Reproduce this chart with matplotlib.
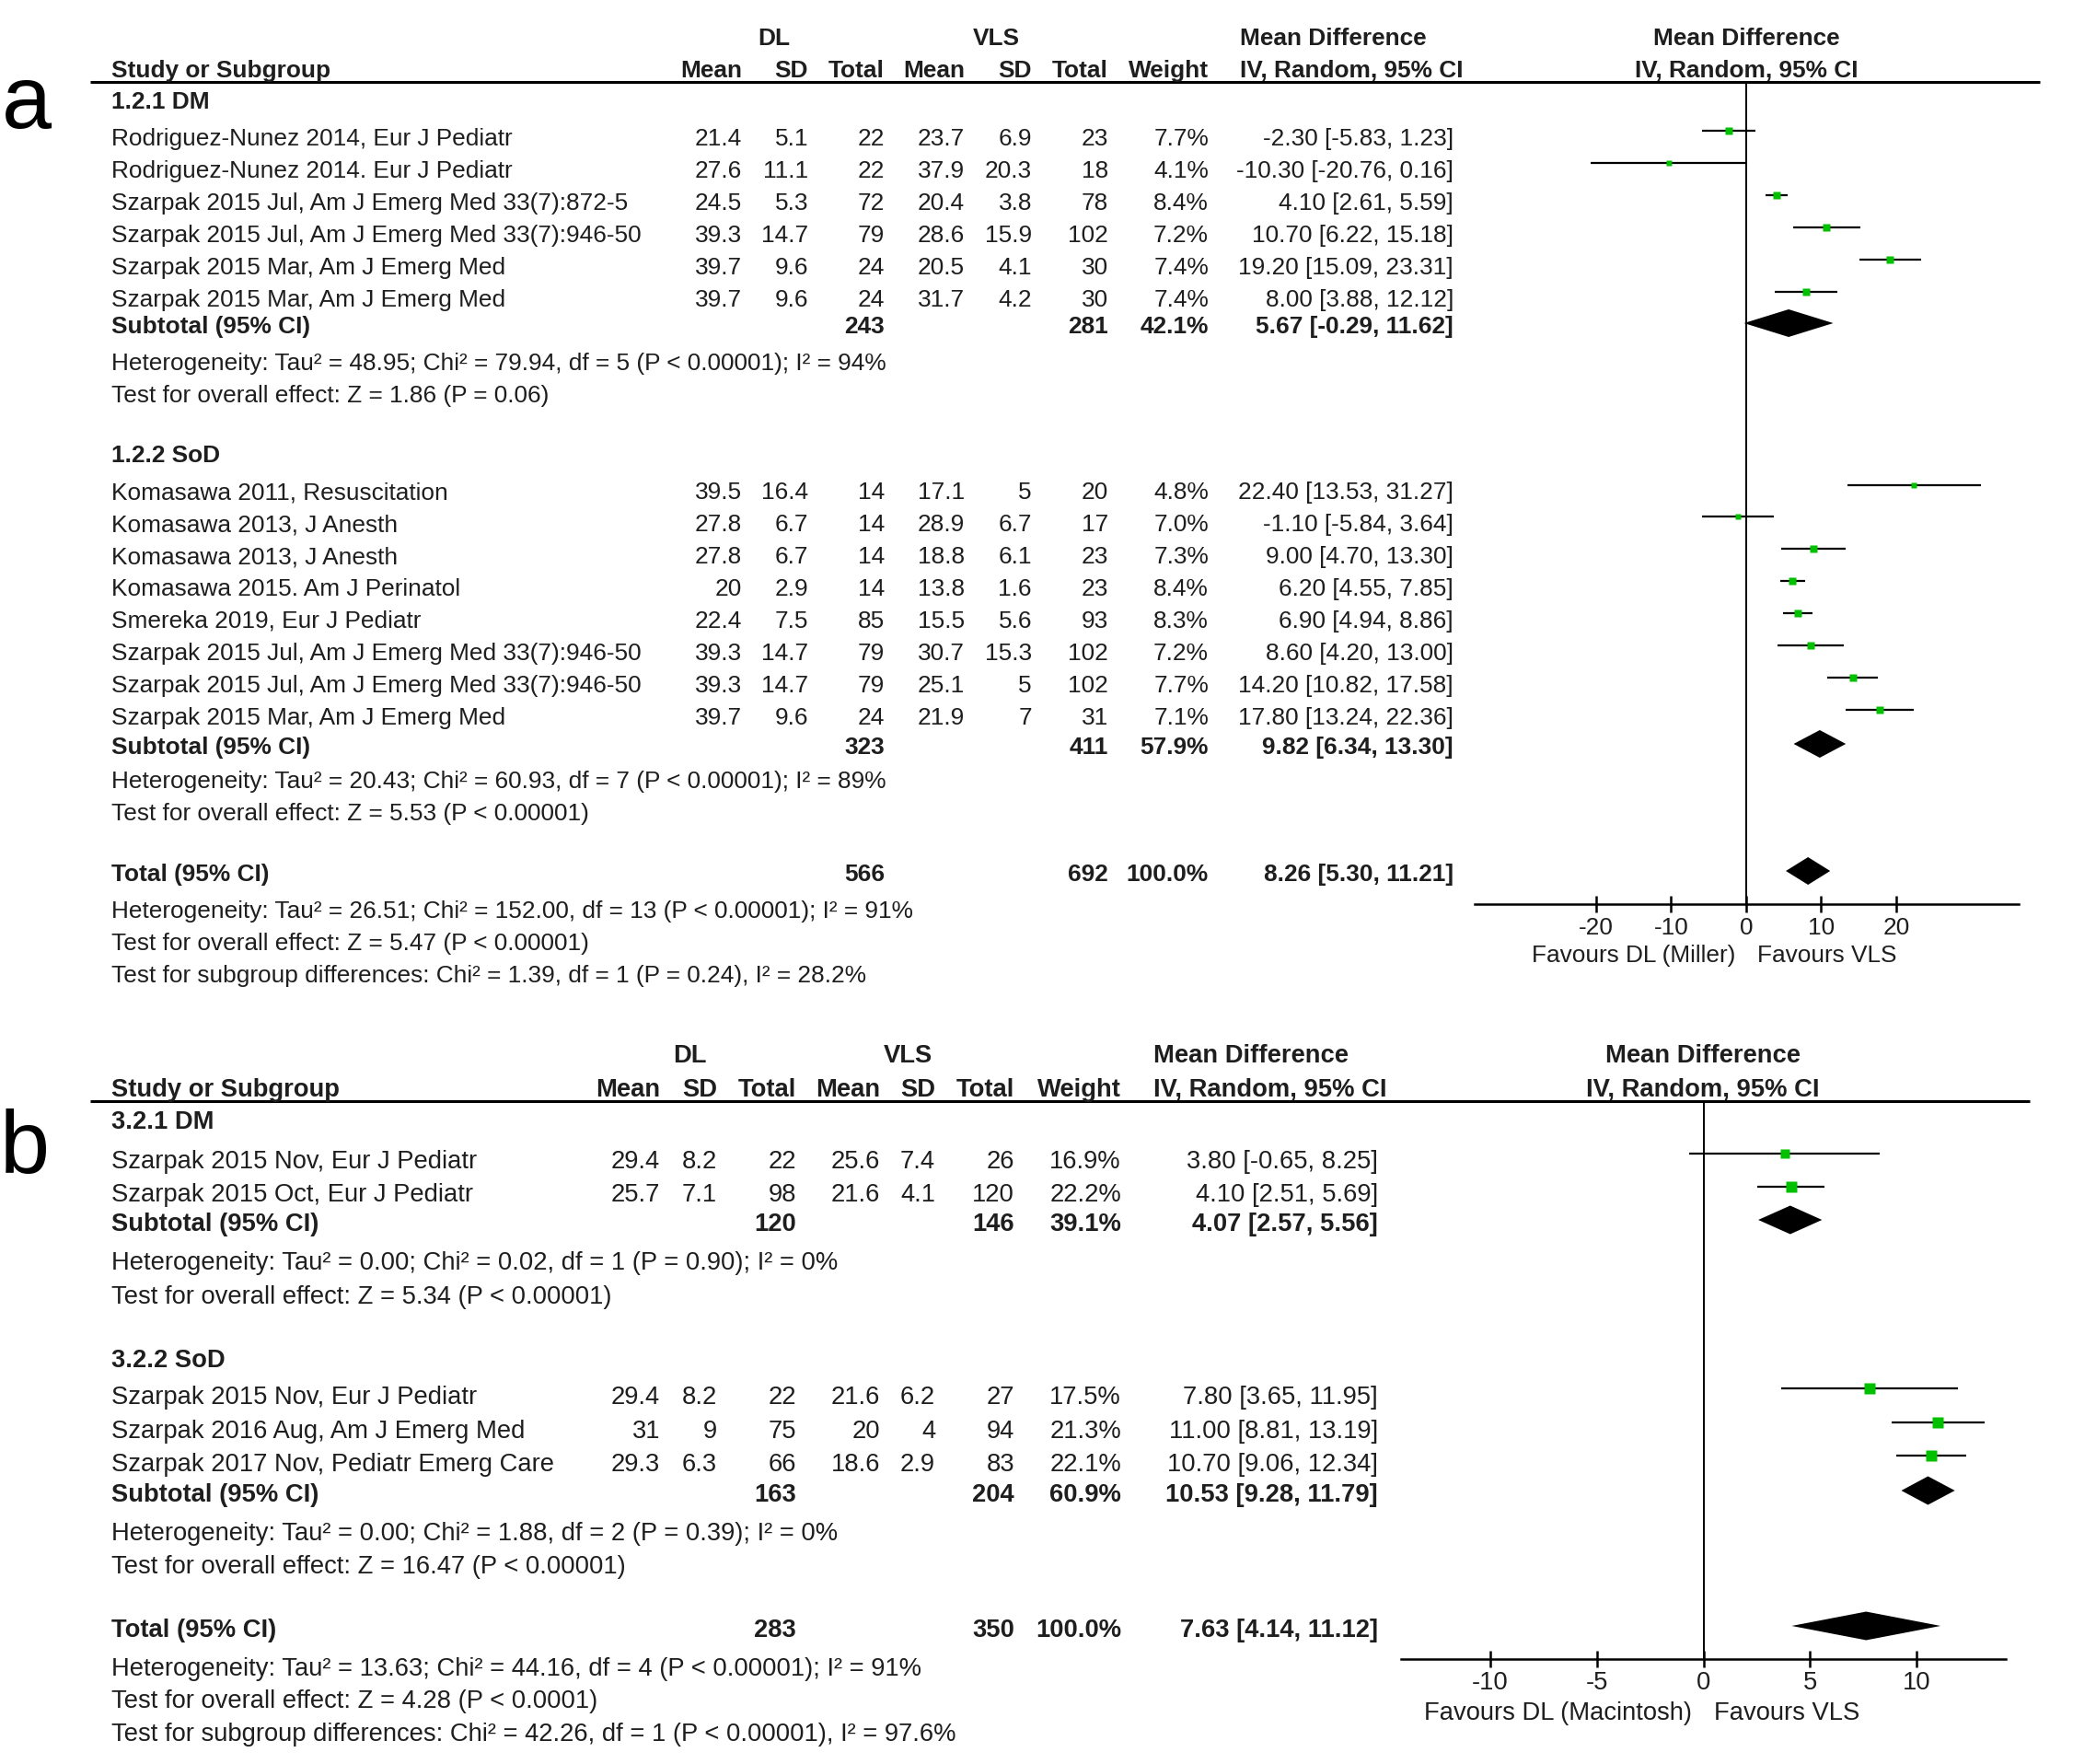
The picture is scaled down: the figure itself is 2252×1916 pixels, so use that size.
import matplotlib
matplotlib.use('Agg')
import matplotlib.pyplot as plt
from matplotlib.patches import Polygon

plt.rcParams['font.family'] = ['Liberation Sans', 'DejaVu Sans']

W, H = 2252, 1916
DPI = 100
TXT = '#1e1e1e'
GREEN = '#00c000'

# ======================= DATA : panel a =======================
a_g1_label = "1.2.1 DM"
a_g1_study = ["Rodriguez-Nunez 2014, Eur J Pediatr",
              "Rodriguez-Nunez 2014. Eur J Pediatr",
              "Szarpak 2015 Jul, Am J Emerg Med 33(7):872-5",
              "Szarpak 2015 Jul, Am J Emerg Med 33(7):946-50",
              "Szarpak 2015 Mar, Am J Emerg Med",
              "Szarpak 2015 Mar, Am J Emerg Med"]
a_g1_dl_mean = [21.4, 27.6, 24.5, 39.3, 39.7, 39.7]
a_g1_dl_sd = [5.1, 11.1, 5.3, 14.7, 9.6, 9.6]
a_g1_dl_n = [22, 22, 72, 79, 24, 24]
a_g1_vls_mean = [23.7, 37.9, 20.4, 28.6, 20.5, 31.7]
a_g1_vls_sd = [6.9, 20.3, 3.8, 15.9, 4.1, 4.2]
a_g1_vls_n = [23, 18, 78, 102, 30, 30]
a_g1_weight = [7.7, 4.1, 8.4, 7.2, 7.4, 7.4]
a_g1_md = [-2.30, -10.30, 4.10, 10.70, 19.20, 8.00]
a_g1_lo = [-5.83, -20.76, 2.61, 6.22, 15.09, 3.88]
a_g1_hi = [1.23, 0.16, 5.59, 15.18, 23.31, 12.12]
a_g1_subtotal = [243, 281, 42.1, 5.67, -0.29, 11.62]   # DL n, VLS n, weight, MD, lo, hi
a_g1_stats = ["Heterogeneity: Tau\u00b2 = 48.95; Chi\u00b2 = 79.94, df = 5 (P < 0.00001); I\u00b2 = 94%",
              "Test for overall effect: Z = 1.86 (P = 0.06)"]

a_g2_label = "1.2.2 SoD"
a_g2_study = ["Komasawa 2011, Resuscitation",
              "Komasawa 2013, J Anesth",
              "Komasawa 2013, J Anesth",
              "Komasawa 2015. Am J Perinatol",
              "Smereka 2019, Eur J Pediatr",
              "Szarpak 2015 Jul, Am J Emerg Med 33(7):946-50",
              "Szarpak 2015 Jul, Am J Emerg Med 33(7):946-50",
              "Szarpak 2015 Mar, Am J Emerg Med"]
a_g2_dl_mean = [39.5, 27.8, 27.8, 20, 22.4, 39.3, 39.3, 39.7]
a_g2_dl_sd = [16.4, 6.7, 6.7, 2.9, 7.5, 14.7, 14.7, 9.6]
a_g2_dl_n = [14, 14, 14, 14, 85, 79, 79, 24]
a_g2_vls_mean = [17.1, 28.9, 18.8, 13.8, 15.5, 30.7, 25.1, 21.9]
a_g2_vls_sd = [5, 6.7, 6.1, 1.6, 5.6, 15.3, 5, 7]
a_g2_vls_n = [20, 17, 23, 23, 93, 102, 102, 31]
a_g2_weight = [4.8, 7.0, 7.3, 8.4, 8.3, 7.2, 7.7, 7.1]
a_g2_md = [22.40, -1.10, 9.00, 6.20, 6.90, 8.60, 14.20, 17.80]
a_g2_lo = [13.53, -5.84, 4.70, 4.55, 4.94, 4.20, 10.82, 13.24]
a_g2_hi = [31.27, 3.64, 13.30, 7.85, 8.86, 13.00, 17.58, 22.36]
a_g2_subtotal = [323, 411, 57.9, 9.82, 6.34, 13.30]
a_g2_stats = ["Heterogeneity: Tau\u00b2 = 20.43; Chi\u00b2 = 60.93, df = 7 (P < 0.00001); I\u00b2 = 89%",
              "Test for overall effect: Z = 5.53 (P < 0.00001)"]

a_total = [566, 692, 100.0, 8.26, 5.30, 11.21]
a_total_stats = ["Heterogeneity: Tau\u00b2 = 26.51; Chi\u00b2 = 152.00, df = 13 (P < 0.00001); I\u00b2 = 91%",
                 "Test for overall effect: Z = 5.47 (P < 0.00001)",
                 "Test for subgroup differences: Chi\u00b2 = 1.39, df = 1 (P = 0.24), I\u00b2 = 28.2%"]
a_ticks = [-20, -10, 0, 10, 20]
a_favours = ["Favours DL (Miller)", "Favours VLS"]

# ======================= DATA : panel b =======================
b_g1_label = "3.2.1 DM"
b_g1_study = ["Szarpak 2015 Nov, Eur J Pediatr",
              "Szarpak 2015 Oct, Eur J Pediatr"]
b_g1_dl_mean = [29.4, 25.7]
b_g1_dl_sd = [8.2, 7.1]
b_g1_dl_n = [22, 98]
b_g1_vls_mean = [25.6, 21.6]
b_g1_vls_sd = [7.4, 4.1]
b_g1_vls_n = [26, 120]
b_g1_weight = [16.9, 22.2]
b_g1_md = [3.80, 4.10]
b_g1_lo = [-0.65, 2.51]
b_g1_hi = [8.25, 5.69]
b_g1_subtotal = [120, 146, 39.1, 4.07, 2.57, 5.56]
b_g1_stats = ["Heterogeneity: Tau\u00b2 = 0.00; Chi\u00b2 = 0.02, df = 1 (P = 0.90); I\u00b2 = 0%",
              "Test for overall effect: Z = 5.34 (P < 0.00001)"]

b_g2_label = "3.2.2 SoD"
b_g2_study = ["Szarpak 2015 Nov, Eur J Pediatr",
              "Szarpak 2016 Aug, Am J Emerg Med",
              "Szarpak 2017 Nov, Pediatr Emerg Care"]
b_g2_dl_mean = [29.4, 31, 29.3]
b_g2_dl_sd = [8.2, 9, 6.3]
b_g2_dl_n = [22, 75, 66]
b_g2_vls_mean = [21.6, 20, 18.6]
b_g2_vls_sd = [6.2, 4, 2.9]
b_g2_vls_n = [27, 94, 83]
b_g2_weight = [17.5, 21.3, 22.1]
b_g2_md = [7.80, 11.00, 10.70]
b_g2_lo = [3.65, 8.81, 9.06]
b_g2_hi = [11.95, 13.19, 12.34]
b_g2_subtotal = [163, 204, 60.9, 10.53, 9.28, 11.79]
b_g2_stats = ["Heterogeneity: Tau\u00b2 = 0.00; Chi\u00b2 = 1.88, df = 2 (P = 0.39); I\u00b2 = 0%",
              "Test for overall effect: Z = 16.47 (P < 0.00001)"]

b_total = [283, 350, 100.0, 7.63, 4.14, 11.12]
b_total_stats = ["Heterogeneity: Tau\u00b2 = 13.63; Chi\u00b2 = 44.16, df = 4 (P < 0.00001); I\u00b2 = 91%",
                 "Test for overall effect: Z = 4.28 (P < 0.0001)",
                 "Test for subgroup differences: Chi\u00b2 = 42.26, df = 1 (P < 0.00001), I\u00b2 = 97.6%"]
b_ticks = [-10, -5, 0, 5, 10]
b_favours = ["Favours DL (Macintosh)", "Favours VLS"]

header_groups = ["DL", "VLS", "Mean Difference"]
header_cols = ["Mean", "SD", "Total", "Mean", "SD", "Total", "Weight", "IV, Random, 95% CI"]

# ======================= figure =======================
fig = plt.figure(figsize=(W / DPI, H / DPI), dpi=DPI)
tax = fig.add_axes([0, 0, 1, 1])
tax.set_xlim(0, W)
tax.set_ylim(H, 0)
tax.axis('off')


def T(x, yc, s, fs, ha='left', bold=False):
    em = fs * DPI / 72.0
    tax.text(x, yc + 0.358 * em, s, ha=ha, va='baseline', fontsize=fs,
             fontweight='bold' if bold else 'normal', color=TXT)


def fnum(v):
    return f"{v:g}"


def fci(m, l, h):
    return f"{m:.2f} [{l:.2f}, {h:.2f}]"


def draw_panel(L, groups, total, total_stats, ticks, favours):
    fs = L['fs']
    # panel letter
    tax.text(L['letter_x'], L['letter_base'], L['letter'], fontsize=70, color='black',
             ha='left', va='baseline')
    # headers
    T(L['dl_c'], L['h1'], header_groups[0], fs, ha='center', bold=True)
    T(L['vls_c'], L['h1'], header_groups[1], fs, ha='center', bold=True)
    T(L['md_left'], L['h1'], header_groups[2], fs, ha='left', bold=True)
    T(L['x_left'], L['h2'], "Study or Subgroup", fs, bold=True)
    for c, s in zip(L['cols'][:7], header_cols[:7]):
        T(c, L['h2'], s, fs, ha='right', bold=True)
    T(L['md_left'], L['h2'], header_cols[7], fs, ha='left', bold=True)
    T(L['fx_c'], L['h1'], "Mean Difference", fs, ha='center', bold=True)
    T(L['fx_c'], L['h2'], "IV, Random, 95% CI", fs, ha='center', bold=True)
    tax.plot([L['line_x0'], L['line_x1']], [L['line_y'], L['line_y']], color='black', lw=2.2,
             solid_capstyle='butt')

    # forest axes
    fx0, fx1, fyt, fyb = L['fax_px']
    fax = fig.add_axes([fx0 / W, 1 - fyb / H, (fx1 - fx0) / W, (fyb - fyt) / H])
    fax.patch.set_alpha(0)
    fax.set_xlim(*L['xlim'])
    fax.set_ylim(fyb, fyt)
    for sp in ['top', 'left', 'right']:
        fax.spines[sp].set_visible(False)
    fax.spines['bottom'].set_linewidth(1.8)
    fax.set_yticks([])
    fax.set_xticks(ticks)
    fax.set_xticklabels([str(t) for t in ticks])
    fax.tick_params(axis='x', direction='inout', length=13.5, width=1.8,
                    labelsize=L['tick_fs'], pad=L['tick_pad'], colors='black',
                    labelcolor=TXT)
    fax.axvline(0, color='black', lw=1.4, zorder=1)

    def diamond(yc, m, lo, hi):
        h = L['dh']
        fax.add_patch(Polygon([[lo, yc], [m, yc - h / 2], [hi, yc], [m, yc + h / 2]],
                              closed=True, facecolor='black', edgecolor='none',
                              zorder=3, clip_on=False))

    for g in groups:
        (label, study, dlm, dls, dln, vm, vs, vn, wt, md, lo, hi, sub, stats,
         y_lab, y_rows, y_sub, y_stats) = g
        T(L['x_left'], y_lab, label, fs, bold=True)
        for i in range(len(study)):
            y = y_rows[i]
            T(L['x_left'], y, study[i], fs)
            vals = [fnum(dlm[i]), fnum(dls[i]), str(dln[i]), fnum(vm[i]), fnum(vs[i]),
                    str(vn[i]), f"{wt[i]:.1f}%", fci(md[i], lo[i], hi[i])]
            for c, s in zip(L['cols'], vals):
                T(c, y, s, fs, ha='right')
            ym = y - L['moff']
            fax.plot([lo[i], hi[i]], [ym, ym], color='black', lw=1.6, zorder=2,
                     solid_capstyle='butt', clip_on=False)
            side_pt = L['msc'] * (wt[i] ** 0.5) * 72.0 / DPI
            fax.plot([md[i]], [ym], marker='s', ms=side_pt, color=GREEN, mec='none',
                     zorder=4, clip_on=False)
        T(L['x_left'], y_sub, "Subtotal (95% CI)", fs, bold=True)
        svals = [str(sub[0]), str(sub[1]), f"{sub[2]:.1f}%", fci(sub[3], sub[4], sub[5])]
        for c, s in zip([L['cols'][2], L['cols'][5], L['cols'][6], L['cols'][7]], svals):
            T(c, y_sub, s, fs, ha='right', bold=True)
        diamond(y_sub - L['doff'], sub[3], sub[4], sub[5])
        for s, y in zip(stats, y_stats):
            T(L['x_left'], y, s, fs)

    y_tot, y_tstats = L['total_y'], L['total_stats_y']
    T(L['x_left'], y_tot, "Total (95% CI)", fs, bold=True)
    tvals = [str(total[0]), str(total[1]), f"{total[2]:.1f}%", fci(total[3], total[4], total[5])]
    for c, s in zip([L['cols'][2], L['cols'][5], L['cols'][6], L['cols'][7]], tvals):
        T(c, y_tot, s, fs, ha='right', bold=True)
    diamond(y_tot - L['doff'], total[3], total[4], total[5])
    for s, y in zip(total_stats, y_tstats):
        T(L['x_left'], y, s, fs)

    T(L['fav_split'] - 12, L['fav_y'], favours[0], L['tick_fs'], ha='right')
    T(L['fav_split'] + 12, L['fav_y'], favours[1], L['tick_fs'], ha='left')


# ---------------- layout panel a ----------------
La = dict(fs=18.9, tick_fs=18.9, tick_pad=3, letter='a', letter_x=2, letter_base=139,
          x_left=121, cols=[806, 878, 961, 1048, 1121, 1204, 1313, 1579],
          dl_c=841, vls_c=1082, md_left=1347, fx_c=1897, h1=39.5, h2=74.8,
          line_x0=98, line_x1=2216, line_y=89,
          fax_px=(1602, 2193, 89, 982), xlim=(-36.2, 36.35),
          dh=30, moff=6.5, doff=2, msc=2.63,
          total_y=948, total_stats_y=[988, 1023, 1058],
          fav_split=1897, fav_y=1036)
a_groups = [
    (a_g1_label, a_g1_study, a_g1_dl_mean, a_g1_dl_sd, a_g1_dl_n, a_g1_vls_mean, a_g1_vls_sd,
     a_g1_vls_n, a_g1_weight, a_g1_md, a_g1_lo, a_g1_hi, a_g1_subtotal, a_g1_stats,
     109, [148.5 + 35 * i for i in range(6)], 353, [393, 428]),
    (a_g2_label, a_g2_study, a_g2_dl_mean, a_g2_dl_sd, a_g2_dl_n, a_g2_vls_mean, a_g2_vls_sd,
     a_g2_vls_n, a_g2_weight, a_g2_md, a_g2_lo, a_g2_hi, a_g2_subtotal, a_g2_stats,
     493, [533 + 34.9 * i for i in range(8)], 810, [847, 882]),
]
draw_panel(La, a_groups, a_total, a_total_stats, a_ticks, a_favours)

# ---------------- layout panel b ----------------
Lb = dict(fs=19.7, tick_fs=19.7, tick_pad=3, letter='b', letter_x=0, letter_base=1274,
          x_left=121, cols=[717, 779, 865, 956, 1016, 1102, 1218, 1497],
          dl_c=749, vls_c=986, md_left=1253, fx_c=1850, h1=1144, h2=1181,
          line_x0=98, line_x1=2205, line_y=1196,
          fax_px=(1521.6, 2179, 1196, 1801.7), xlim=(-14.2, 14.18),
          dh=31, moff=7, doff=2, msc=2.63,
          total_y=1768, total_stats_y=[1810, 1845.5, 1881],
          fav_split=1850, fav_y=1858.6)
b_groups = [
    (b_g1_label, b_g1_study, b_g1_dl_mean, b_g1_dl_sd, b_g1_dl_n, b_g1_vls_mean, b_g1_vls_sd,
     b_g1_vls_n, b_g1_weight, b_g1_md, b_g1_lo, b_g1_hi, b_g1_subtotal, b_g1_stats,
     1216, [1259.5, 1295.5], 1327, [1369, 1406]),
    (b_g2_label, b_g2_study, b_g2_dl_mean, b_g2_dl_sd, b_g2_dl_n, b_g2_vls_mean, b_g2_vls_sd,
     b_g2_vls_n, b_g2_weight, b_g2_md, b_g2_lo, b_g2_hi, b_g2_subtotal, b_g2_stats,
     1475, [1515, 1552, 1588], 1621, [1663, 1699]),
]
draw_panel(Lb, b_groups, b_total, b_total_stats, b_ticks, b_favours)

fig.savefig('out.png', dpi=DPI)
